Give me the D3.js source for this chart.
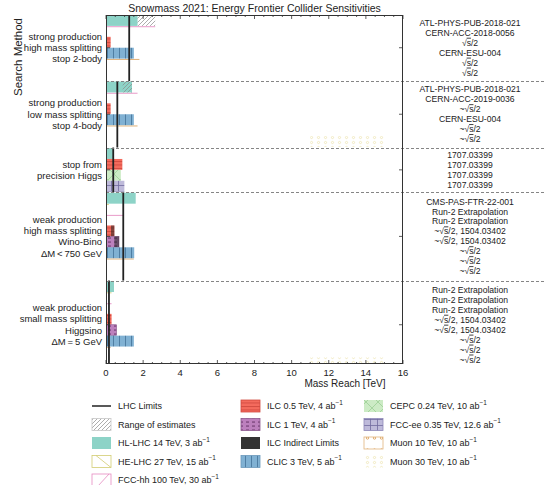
<!DOCTYPE html>
<html>
<head>
<meta charset="utf-8">
<script src="https://cdn.jsdelivr.net/npm/d3@7"></script>
<style>
  body { margin: 0; background: #fff; }
  svg { display: block; font-family: "Liberation Sans", Arial, Helvetica, sans-serif; }
</style>
</head>
<body>
<svg id="chart" width="545" height="485"></svg>
<script>
// ---- data ---------------------------------------------------------------
const massTicks = [0, 2, 4, 6, 8, 10, 12, 14, 16];

const groupNames = [
  ["strong production", "high mass splitting", "stop 2-body"],
  ["strong production", "low mass splitting", "stop 4-body"],
  ["stop from", "precision Higgs"],
  ["weak production", "high mass splitting", "Wino-Bino", "\u0394M\u2009<\u2009750 GeV"],
  ["weak production", "small mass splitting", "Higgsino", "\u0394M\u2009=\u20095 GeV"]
];

// stop 2-body
const stop2BodyRows  = ["HL-LHC", "FCC-hh", "ILC 0.5", "CLIC", "Muon 10", "Muon 30"];
const stop2BodyReach = [1.7, 2.65, 0.25, 1.5, 1.8, 0];
const stop2BodyRefs  = ["ATL-PHYS-PUB-2018-021", "CERN-ACC-2018-0056", "\u221As/2", "CERN-ESU-004", "\u221As/2", "\u221As/2"];

// stop 4-body
const stop4BodyRows  = ["HL-LHC", "FCC-hh", "ILC 0.5", "CLIC", "Muon 10", "Muon 30"];
const stop4BodyReach = [1.4, 1.7, 0.25, 1.5, 1.7, 15];
const stop4BodyRefs  = ["ATL-PHYS-PUB-2018-021", "CERN-ACC-2019-0036", "~\u221As/2", "CERN-ESU-004", "~\u221As/2", "~\u221As/2"];

// stop from precision Higgs
const stopHiggsRows  = ["HL-LHC", "ILC 0.5", "CEPC", "FCC-ee"];
const stopHiggsReach = [0.38, 0.88, 0.8, 0.99];
const stopHiggsRefs  = ["1707.03399", "1707.03399", "1707.03399", "1707.03399"];

// Wino-Bino
const winoBinoRows  = ["HL-LHC", "HE-LHC", "FCC-hh", "ILC 0.5", "ILC 1", "CLIC", "Muon 10", "Muon 30"];
const winoBinoReach = [1.6, 0.15, 0.95, 0.45, 0.7, 1.52, 1.5, 0];
const winoBinoRefs  = ["CMS-PAS-FTR-22-001", "Run-2 Extrapolation", "Run-2 Extrapolation",
                       "~\u221As/2, 1504.03402", "~\u221As/2, 1504.03402", "~\u221As/2", "~\u221As/2", "~\u221As/2"];

// Higgsino
const higgsinoRows  = ["HL-LHC", "HE-LHC", "FCC-hh", "ILC 0.5", "ILC 1", "CLIC", "Muon 10", "Muon 30"];
const higgsinoReach = [0.43, 0.3, 0.3, 0.3, 0.57, 1.5, 0.25, 15];
const higgsinoRefs  = ["Run-2 Extrapolation", "Run-2 Extrapolation", "Run-2 Extrapolation",
                       "~\u221As/2, 1504.03402", "~\u221As/2, 1504.03402", "~\u221As/2", "~\u221As/2", "~\u221As/2"];

// current LHC limit per search
const lhcLimits = [1.25, 0.61, 0.39, 0.93, 0.16];
// HL-LHC range of estimates per search
const rangeLow  = [1.7, 0.9, null, null, null];
const rangeHigh = [2.65, 1.4, null, null, null];
// ILC indirect reach starts where the direct one ends (Wino-Bino only)
const indirectFrom = [null, null, null, [null, null, null, 0.27, 0.45, null, null, null], null];
// visible start of the Muon 30 TeV dotted band
const muon30From = [null, 11, null, null, 11];

// ---- styles ---------------------------------------------------------------
const outlineOnly = { "HE-LHC": "#d3cc72", "FCC-hh": "#e58ac0", "Muon 10": "#dba360" };
const solidFill = {
  "HL-LHC": "#8dd3c7",
  "ILC 0.5": "url(#p-ilc05)",
  "ILC 1": "url(#p-ilc1)",
  "CLIC": "url(#p-clic)",
  "CEPC": "url(#p-cepc)",
  "FCC-ee": "url(#p-fccee)"
};

// ---- layout -----------------------------------------------------------------
const svg = d3.select("#chart");
const plot = { left: 106, right: 403, top: 15, bottom: 364 };
const x = d3.scaleLinear().domain([0, 16]).range([plot.left, plot.right]);

const groups = [
  { rows: stop2BodyRows, reach: stop2BodyReach, refs: stop2BodyRefs },
  { rows: stop4BodyRows, reach: stop4BodyReach, refs: stop4BodyRefs },
  { rows: stopHiggsRows, reach: stopHiggsReach, refs: stopHiggsRefs },
  { rows: winoBinoRows, reach: winoBinoReach, refs: winoBinoRefs },
  { rows: higgsinoRows, reach: higgsinoReach, refs: higgsinoRefs }
];
const gapUnits = 0.1;
let acc = 0;
groups.forEach((g, i) => {
  g.index = i;
  g.start = acc;
  g.end = acc + g.rows.length;
  g.center = (g.start + g.end) / 2;
  acc = g.end + gapUnits;
});
const y = d3.scaleLinear().domain([0, 32]).range([plot.top, plot.bottom]);

// ---- patterns ---------------------------------------------------------------
const defs = svg.append("defs");
function pattern(id, w, h, bg) {
  const p = defs.append("pattern").attr("id", id)
    .attr("patternUnits", "userSpaceOnUse").attr("width", w).attr("height", h);
  if (bg) p.append("rect").attr("width", w).attr("height", h).attr("fill", bg);
  return p;
}
pattern("p-ilc05", 4, 3.5, "#f46b5d")
  .append("line").attr("x1", 0).attr("x2", 4).attr("y1", 0.5).attr("y2", 0.5)
  .attr("stroke", "#d04a3f").attr("stroke-width", 0.9);
pattern("p-ilc1", 6, 4, "#bc80bd")
  .append("rect").attr("x", 0).attr("y", 1.5).attr("width", 3).attr("height", 1.1).attr("fill", "#6e3a70");
pattern("p-clic", 6, 4, "#80b1d3")
  .append("line").attr("x1", 5.5).attr("x2", 5.5).attr("y1", 0).attr("y2", 4)
  .attr("stroke", "#4f7ea3").attr("stroke-width", 1);
const pc = pattern("p-cepc", 12, 12, "#ccebc5");
pc.append("path").attr("d", "M0,0L12,12M12,0L0,12").attr("stroke", "#9ccf95").attr("stroke-width", 0.8);
const pf = pattern("p-fccee", 7, 6, "#bebada");
pf.append("path").attr("d", "M6.5,0V6M0,5.5H7").attr("stroke", "#716ba0").attr("stroke-width", 0.8);
pattern("p-range", 4, 4, null)
  .append("path").attr("d", "M-1,1L1,-1M0,4L4,0M3,5L5,3")
  .attr("stroke", "#8a8a8a").attr("stroke-width", 0.7);
pattern("p-muon30", 7, 5, null)
  .append("circle").attr("cx", 3.5).attr("cy", 2.5).attr("r", 1.1)
  .attr("fill", "none").attr("stroke", "#eee4b4").attr("stroke-width", 0.8);
pattern("p-muon10", 7, 12, null)
  .append("circle").attr("cx", 3.5).attr("cy", 6).attr("r", 1.2)
  .attr("fill", "none").attr("stroke", "#d99a50").attr("stroke-width", 0.8);

defs.append("clipPath").attr("id", "plot-clip")
  .append("rect").attr("x", plot.left).attr("y", plot.top)
  .attr("width", plot.right - plot.left).attr("height", plot.bottom - plot.top);

// ---- marks ------------------------------------------------------------------
const marks = svg.append("g").attr("clip-path", "url(#plot-clip)");

// outline-only colliders show as a thin edge along the top of their row
groups.forEach(g => {
  g.rows.forEach((r, i) => {
    if (outlineOnly[r] && g.reach[i] > 0) {
      const yy = y(g.start + i) + 0.8;
      marks.append("line")
        .attr("x1", x(0)).attr("x2", x(g.reach[i]))
        .attr("y1", yy).attr("y2", yy)
        .attr("stroke", outlineOnly[r]).attr("stroke-width", 1).attr("opacity", 0.85);
    }
    if (r === "Muon 30" && muon30From[g.index] != null) {
      marks.append("rect")
        .attr("x", x(muon30From[g.index])).attr("y", y(g.start + i))
        .attr("width", x(g.reach[i]) - x(muon30From[g.index]))
        .attr("height", y(g.start + i + 1) - y(g.start + i))
        .attr("fill", "url(#p-muon30)");
    }
  });
});

// filled bars
groups.forEach(g => {
  g.rows.forEach((r, i) => {
    if (!solidFill[r]) return;
    marks.append("rect")
      .attr("x", x(0)).attr("y", y(g.start + i))
      .attr("width", x(g.reach[i]) - x(0))
      .attr("height", y(g.start + i + 1) - y(g.start + i))
      .attr("fill", solidFill[r])
      .attr("stroke", r === "ILC 1" ? "#8c5a8e" : "none")
      .attr("stroke-width", 0.6);
    const ind = indirectFrom[g.index];
    if (ind && ind[i] != null) {
      marks.append("rect")
        .attr("x", x(ind[i])).attr("y", y(g.start + i))
        .attr("width", x(g.reach[i]) - x(ind[i]))
        .attr("height", y(g.start + i + 1) - y(g.start + i))
        .attr("fill", "#222").attr("opacity", 0.55);
    }
  });
  // range of estimates on the HL-LHC row
  if (rangeLow[g.index] != null) {
    const i = g.rows.indexOf("HL-LHC");
    marks.append("rect")
      .attr("x", x(rangeLow[g.index])).attr("y", y(g.start + i))
      .attr("width", x(rangeHigh[g.index]) - x(rangeLow[g.index]))
      .attr("height", y(g.start + i + 1) - y(g.start + i))
      .attr("fill", "url(#p-range)");
  }
});

// LHC limits
groups.forEach(g => {
  marks.append("line")
    .attr("x1", x(lhcLimits[g.index])).attr("x2", x(lhcLimits[g.index]))
    .attr("y1", y(g.start - gapUnits / 2)).attr("y2", y(g.end + gapUnits / 2))
    .attr("stroke", "#222").attr("stroke-width", 1.8);
});

// group separators, running out through the reference column
groups.slice(1).forEach(g => {
  const yy = Math.round(y(g.start - gapUnits / 2)) + 0.5;
  svg.append("line")
    .attr("x1", plot.left).attr("x2", 545).attr("y1", yy).attr("y2", yy)
    .attr("stroke", "#777").attr("stroke-width", 0.9).attr("stroke-dasharray", "3,2");
});

// ---- axes frame & ticks ------------------------------------------------------
const frame = svg.append("g").attr("stroke", "#333").attr("fill", "none");
frame.append("rect")
  .attr("x", plot.left + 0.5).attr("y", plot.top + 0.5)
  .attr("width", plot.right - plot.left - 1).attr("height", plot.bottom - plot.top - 1)
  .attr("stroke-width", 1);

const minorTicks = d3.range(0, 16.01, 0.5);
minorTicks.forEach(t => {
  const major = massTicks.includes(t);
  const len = major ? 4 : 2;
  const xx = x(t);
  frame.append("line").attr("x1", xx).attr("x2", xx)
    .attr("y1", plot.bottom).attr("y2", plot.bottom - len).attr("stroke-width", 0.8);
  frame.append("line").attr("x1", xx).attr("x2", xx)
    .attr("y1", plot.top).attr("y2", plot.top + len).attr("stroke-width", 0.8);
});
groups.forEach(g => {
  const yy = y(g.center);
  frame.append("line").attr("x1", plot.left).attr("x2", plot.left + 4)
    .attr("y1", yy).attr("y2", yy).attr("stroke-width", 0.8);
  frame.append("line").attr("x1", plot.right).attr("x2", plot.right - 4)
    .attr("y1", yy).attr("y2", yy).attr("stroke-width", 0.8);
});

svg.append("g").selectAll("text").data(massTicks).join("text")
  .attr("x", d => x(d)).attr("y", 376)
  .attr("text-anchor", "middle").attr("font-size", 9.5).attr("fill", "#222")
  .text(d => d);

// ---- texts ------------------------------------------------------------------
svg.append("text").attr("x", (plot.left + plot.right) / 2).attr("y", 12)
  .attr("text-anchor", "middle").attr("font-size", 10.5).attr("fill", "#222")
  .text("Snowmass 2021: Energy Frontier Collider Sensitivities");

svg.append("text").attr("transform", "translate(22,57) rotate(-90)")
  .attr("text-anchor", "middle").attr("font-size", 11.5).attr("fill", "#222")
  .text("Search Method");

svg.append("text").attr("x", 345).attr("y", 387)
  .attr("text-anchor", "middle").attr("font-size", 10).attr("fill", "#222")
  .text("Mass Reach [TeV]");

// search method labels on the left
const leftLine = 11.3;
groups.forEach(g => {
  const names = groupNames[g.index];
  const c = y(g.center);
  names.forEach((n, k) => {
    svg.append("text")
      .attr("x", 102).attr("y", c + (k - (names.length - 1) / 2) * leftLine + 3.4)
      .attr("text-anchor", "end").attr("font-size", 9.5).attr("fill", "#222")
      .text(n);
  });
});

// references on the right, one line per row
const refLine = 9.95;
function writeRef(sel, s) {
  const k = s.indexOf("\u221As");
  if (k < 0) { sel.text(s); return; }
  sel.append("tspan").text(s.slice(0, k + 1));
  sel.append("tspan").style("text-decoration", "overline").text("s");
  sel.append("tspan").text(s.slice(k + 2));
}
groups.forEach(g => {
  const c = y(g.center);
  g.refs.forEach((r, k) => {
    const t = svg.append("text")
      .attr("x", 470).attr("y", c + (k - (g.refs.length - 1) / 2) * refLine + 3)
      .attr("text-anchor", "middle").attr("font-size", 8.6).attr("fill", "#222");
    writeRef(t, r);
  });
});

// ---- legend -----------------------------------------------------------------
const legendCol1 = [["LHC Limits", ""], ["Range of estimates", ""], ["HL-LHC 14 TeV, 3 ab", "\u22121"],
                    ["HE-LHC 27 TeV, 15 ab", "\u22121"], ["FCC-hh 100 TeV, 30 ab", "\u22121"]];
const legendCol2 = [["ILC 0.5 TeV, 4 ab", "\u22121"], ["ILC 1 TeV, 4 ab", "\u22121"],
                    ["ILC Indirect Limits", ""], ["CLIC 3 TeV, 5 ab", "\u22121"]];
const legendCol3 = [["CEPC 0.24 TeV, 10 ab", "\u22121"], ["FCC-ee 0.35 TeV, 12.6 ab", "\u22121"],
                    ["Muon 10 TeV, 10 ab", "\u22121"], ["Muon 30 TeV, 10 ab", "\u22121"]];
const legendKeys = [
  ["lhc", "range", "hl", "he", "fcchh"],
  ["ilc05", "ilc1", "indirect", "clic"],
  ["cepc", "fccee", "mu10", "mu30"]
];
const legendX = [92, 241, 364];
const legendTop = 406, legendStep = 18.5;
const sw = 19, sh = 12;

function swatch(gSel, key, x0, yc) {
  const y0 = yc - sh / 2;
  const box = (fill, stroke) => gSel.append("rect").attr("x", x0).attr("y", y0)
    .attr("width", sw).attr("height", sh).attr("fill", fill)
    .attr("stroke", stroke || "none").attr("stroke-width", 0.8);
  switch (key) {
    case "lhc":
      gSel.append("line").attr("x1", x0).attr("x2", x0 + sw).attr("y1", yc).attr("y2", yc)
        .attr("stroke", "#222").attr("stroke-width", 1.5); break;
    case "range": box("url(#p-range)", "#c8c8c8"); break;
    case "hl": box("#8dd3c7"); break;
    case "he":
      box("#fff", "#d3cc72");
      gSel.append("line").attr("x1", x0 + 4).attr("y1", y0).attr("x2", x0 + sw).attr("y2", y0 + sh)
        .attr("stroke", "#d3cc72").attr("stroke-width", 0.8); break;
    case "fcchh":
      box("#fff", "#e58ac0");
      gSel.append("line").attr("x1", x0 + 6).attr("y1", y0 + sh).attr("x2", x0 + sw - 2).attr("y2", y0)
        .attr("stroke", "#e58ac0").attr("stroke-width", 0.8); break;
    case "ilc05": box("url(#p-ilc05)", "#d04a3f"); break;
    case "ilc1": box("url(#p-ilc1)", "#8c5a8e"); break;
    case "indirect": box("#333"); break;
    case "clic": box("url(#p-clic)", "#6a98bb"); break;
    case "cepc": box("url(#p-cepc)"); break;
    case "fccee": box("url(#p-fccee)", "#8e89b8"); break;
    case "mu10": box("url(#p-muon10)", "#e1b47e"); break;
    case "mu30": box("url(#p-muon30)"); break;
  }
}
[legendCol1, legendCol2, legendCol3].forEach((col, c) => {
  col.forEach((item, r) => {
    const yc = legendTop + r * legendStep;
    const gSel = svg.append("g");
    swatch(gSel, legendKeys[c][r], legendX[c], yc);
    const t = gSel.append("text").attr("x", legendX[c] + sw + 7).attr("y", yc + 3.3)
      .attr("font-size", 9).attr("fill", "#222");
    t.append("tspan").text(item[0]);
    if (item[1]) t.append("tspan").attr("dy", -4.5).attr("font-size", 6.5).text(item[1]);
  });
});
</script>
</body>
</html>
